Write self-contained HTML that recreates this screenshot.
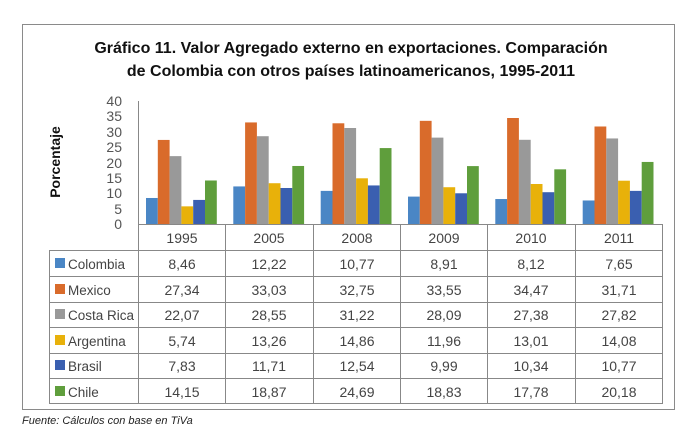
<!DOCTYPE html>
<html><head><meta charset="utf-8"><style>
body{margin:0;background:#fff;width:680px;height:438px;overflow:hidden}
svg{display:block}
</style></head><body>
<svg width="680" height="438" xmlns="http://www.w3.org/2000/svg" font-family="Liberation Sans, sans-serif">
<rect x="22.5" y="24.5" width="652" height="385" fill="#fff" stroke="#8a8a8a"/>
<text x="351" y="53" text-anchor="middle" font-size="16" font-weight="bold" fill="#111">Gráfico 11. Valor Agregado externo en exportaciones. Comparación</text>
<text x="351" y="76" text-anchor="middle" font-size="16" font-weight="bold" fill="#111">de Colombia con otros países latinoamericanos, 1995-2011</text>
<text transform="translate(60,162) rotate(-90)" text-anchor="middle" font-size="14" font-weight="bold" fill="#111">Porcentaje</text>
<g font-size="14" fill="#555" text-anchor="end">
<text x="122" y="106">40</text><text x="122" y="121">35</text><text x="122" y="137">30</text><text x="122" y="152">25</text><text x="122" y="168">20</text><text x="122" y="183">15</text><text x="122" y="198">10</text><text x="122" y="214">5</text><text x="122" y="229">0</text>
</g>
<line x1="138.5" y1="101" x2="138.5" y2="224" stroke="#888"/>
<g id="bars">
<g transform="translate(146,224) scale(1,-3.075)">
<rect x="0" width="11.8" height="8.46" fill="#4a86c5"/><rect x="11.8" width="11.8" height="27.34" fill="#d96b2b"/><rect x="23.6" width="11.8" height="22.07" fill="#999"/><rect x="35.4" width="11.8" height="5.74" fill="#e8b10a"/><rect x="47.2" width="11.8" height="7.83" fill="#3a5fb0"/><rect x="59" width="11.8" height="14.15" fill="#5f9e3c"/></g>
<g transform="translate(233.3,224) scale(1,-3.075)">
<rect x="0" width="11.8" height="12.22" fill="#4a86c5"/><rect x="11.8" width="11.8" height="33.03" fill="#d96b2b"/><rect x="23.6" width="11.8" height="28.55" fill="#999"/><rect x="35.4" width="11.8" height="13.26" fill="#e8b10a"/><rect x="47.2" width="11.8" height="11.71" fill="#3a5fb0"/><rect x="59" width="11.8" height="18.87" fill="#5f9e3c"/></g>
<g transform="translate(320.7,224) scale(1,-3.075)">
<rect x="0" width="11.8" height="10.77" fill="#4a86c5"/><rect x="11.8" width="11.8" height="32.75" fill="#d96b2b"/><rect x="23.6" width="11.8" height="31.22" fill="#999"/><rect x="35.4" width="11.8" height="14.86" fill="#e8b10a"/><rect x="47.2" width="11.8" height="12.54" fill="#3a5fb0"/><rect x="59" width="11.8" height="24.69" fill="#5f9e3c"/></g>
<g transform="translate(408,224) scale(1,-3.075)">
<rect x="0" width="11.8" height="8.91" fill="#4a86c5"/><rect x="11.8" width="11.8" height="33.55" fill="#d96b2b"/><rect x="23.6" width="11.8" height="28.09" fill="#999"/><rect x="35.4" width="11.8" height="11.96" fill="#e8b10a"/><rect x="47.2" width="11.8" height="9.99" fill="#3a5fb0"/><rect x="59" width="11.8" height="18.83" fill="#5f9e3c"/></g>
<g transform="translate(495.3,224) scale(1,-3.075)">
<rect x="0" width="11.8" height="8.12" fill="#4a86c5"/><rect x="11.8" width="11.8" height="34.47" fill="#d96b2b"/><rect x="23.6" width="11.8" height="27.38" fill="#999"/><rect x="35.4" width="11.8" height="13.01" fill="#e8b10a"/><rect x="47.2" width="11.8" height="10.34" fill="#3a5fb0"/><rect x="59" width="11.8" height="17.78" fill="#5f9e3c"/></g>
<g transform="translate(582.7,224) scale(1,-3.075)">
<rect x="0" width="11.8" height="7.65" fill="#4a86c5"/><rect x="11.8" width="11.8" height="31.71" fill="#d96b2b"/><rect x="23.6" width="11.8" height="27.82" fill="#999"/><rect x="35.4" width="11.8" height="14.08" fill="#e8b10a"/><rect x="47.2" width="11.8" height="10.77" fill="#3a5fb0"/><rect x="59" width="11.8" height="20.18" fill="#5f9e3c"/></g>
</g>
<g stroke="#888" fill="none">
<path d="M138.5 224.5H662.5V403.5H49.5V250.5H662.5"/>
<path d="M49.5 276.5H662.5M49.5 302.5H662.5M49.5 327.5H662.5M49.5 353.5H662.5M49.5 378.5H662.5"/>
<path d="M138.5 224V403.5M225.5 224V403.5M313.5 224V403.5M400.5 224V403.5M487.5 224V403.5M575.5 224V403.5"/>
</g>
<g font-size="14" fill="#444" text-anchor="middle">
<text x="182" y="243">1995</text><text x="269" y="243">2005</text><text x="357" y="243">2008</text><text x="444" y="243">2009</text><text x="531" y="243">2010</text><text x="619" y="243">2011</text>
<text x="182" y="269">8,46</text><text x="269" y="269">12,22</text><text x="357" y="269">10,77</text><text x="444" y="269">8,91</text><text x="531" y="269">8,12</text><text x="619" y="269">7,65</text>
<text x="182" y="295">27,34</text><text x="269" y="295">33,03</text><text x="357" y="295">32,75</text><text x="444" y="295">33,55</text><text x="531" y="295">34,47</text><text x="619" y="295">31,71</text>
<text x="182" y="320">22,07</text><text x="269" y="320">28,55</text><text x="357" y="320">31,22</text><text x="444" y="320">28,09</text><text x="531" y="320">27,38</text><text x="619" y="320">27,82</text>
<text x="182" y="346">5,74</text><text x="269" y="346">13,26</text><text x="357" y="346">14,86</text><text x="444" y="346">11,96</text><text x="531" y="346">13,01</text><text x="619" y="346">14,08</text>
<text x="182" y="371">7,83</text><text x="269" y="371">11,71</text><text x="357" y="371">12,54</text><text x="444" y="371">9,99</text><text x="531" y="371">10,34</text><text x="619" y="371">10,77</text>
<text x="182" y="397">14,15</text><text x="269" y="397">18,87</text><text x="357" y="397">24,69</text><text x="444" y="397">18,83</text><text x="531" y="397">17,78</text><text x="619" y="397">20,18</text>
</g>
<g font-size="13.5" fill="#444">
<rect x="55" y="258" width="10" height="10" fill="#4a86c5"/><text x="68" y="269">Colombia</text>
<rect x="55" y="284" width="10" height="10" fill="#d96b2b"/><text x="68" y="295">Mexico</text>
<rect x="55" y="309" width="10" height="10" fill="#999"/><text x="68" y="320">Costa Rica</text>
<rect x="55" y="335" width="10" height="10" fill="#e8b10a"/><text x="68" y="346">Argentina</text>
<rect x="55" y="360" width="10" height="10" fill="#3a5fb0"/><text x="68" y="371">Brasil</text>
<rect x="55" y="386" width="10" height="10" fill="#5f9e3c"/><text x="68" y="397">Chile</text>
</g>
<text x="22" y="424" font-size="11" font-style="italic" fill="#222">Fuente: Cálculos con base en TiVa</text>
</svg>
</body></html>
